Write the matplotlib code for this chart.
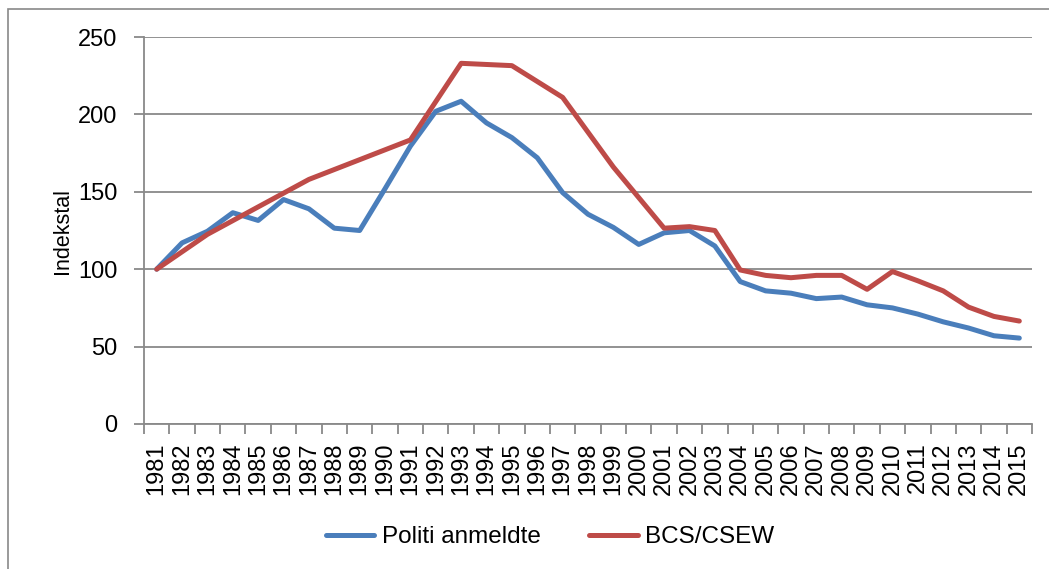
import matplotlib
matplotlib.use('Agg')
import matplotlib.pyplot as plt
import matplotlib.patches as mpatches
import numpy as np

# Data
years = list(range(1981, 2016))
politi = [100, 117, 124.5, 136.5, 131.5, 145, 139, 126.5, 125, 152,
          179.5, 202, 208.5, 194.5, 185, 172, 149.5, 135.5, 127, 116,
          123.5, 125, 115, 92, 86, 84.5, 81, 82, 77, 75,
          71, 66, 62, 57, 55.5]
bcs_years = [1981, 1983, 1987, 1991, 1993, 1995, 1997, 1999, 2001, 2002, 2003,
             2004, 2005, 2006, 2007, 2008, 2009, 2010, 2011, 2012, 2013, 2014, 2015]
bcs = [100, 122.5, 158, 183.5, 233, 231.5, 211, 166, 126.5, 127.5, 125,
       99.5, 96, 94.5, 96, 96, 87, 98.5, 92.5, 86, 75.5, 69.5, 66.5]

# Colors
color_blue = '#4a7ebb'
color_red = '#be4b48'
color_grid = '#898989'

plt.rcParams['font.family'] = ['Liberation Sans', 'DejaVu Sans']

fig = plt.figure(figsize=(10.49, 5.69), dpi=100, facecolor='white')
ax = fig.add_axes([144 / 1049, 1 - 424 / 569, (1032 - 144) / 1049, (424 - 37) / 569])

# outer chart border
border = mpatches.Rectangle((8 / 1049, -0.1), 1.2, 1 - 9 / 569 + 0.1, transform=fig.transFigure,
                            fill=False, edgecolor=color_grid, linewidth=1.2, clip_on=False)
fig.add_artist(border)

x_pol = [y - 1981 for y in years]
x_bcs = [y - 1981 for y in bcs_years]
ax.plot(x_pol, politi, color=color_blue, linewidth=3.6, label='Politi anmeldte',
        solid_capstyle='round', solid_joinstyle='round', zorder=3)
ax.plot(x_bcs, bcs, color=color_red, linewidth=3.6, label='BCS/CSEW',
        solid_capstyle='round', solid_joinstyle='round', zorder=4)

ax.set_xlim(-0.5, len(years) - 0.5)
ax.set_ylim(0, 250)
ax.set_yticks(range(0, 251, 50))
ax.yaxis.grid(True, color=color_grid, linewidth=1.3)
ax.set_axisbelow(True)

ax.set_xticks(x_pol)
ax.set_xticklabels([str(y) for y in years], rotation=90, fontsize=17)
ax.set_xticks(np.arange(-0.5, len(years), 1.0), minor=True)
ax.tick_params(axis='x', which='major', length=0, pad=13)
ax.tick_params(axis='x', which='minor', length=7, width=1.3, color=color_grid)
ax.tick_params(axis='y', length=7, width=1.3, color=color_grid, labelsize=17, pad=12)

for side in ['top', 'right']:
    ax.spines[side].set_visible(False)
for side in ['left', 'bottom']:
    ax.spines[side].set_color(color_grid)
    ax.spines[side].set_linewidth(1.3)

ax.set_ylabel('Indekstal', fontsize=15.5, labelpad=4)

fig.legend(loc='center', bbox_to_anchor=(550 / 1049, 1 - 537 / 569), ncol=2, frameon=False,
           fontsize=17.5, handlelength=2.0, handletextpad=0.3, columnspacing=2.0)

plt.savefig('out.png', dpi=100, facecolor='white')
plt.close()
